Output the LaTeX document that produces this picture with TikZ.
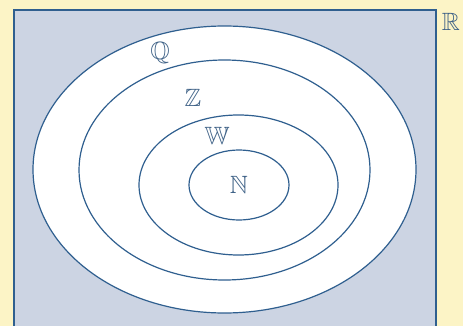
\documentclass[tikz,border=0pt]{standalone}
\usepackage{amssymb}
\definecolor{bgyellow}{HTML}{FCF4C6}
\definecolor{boxblue}{HTML}{CCD4E3}
\definecolor{edgeblue}{HTML}{2F5F8F}
\definecolor{labelblue}{HTML}{3F6287}
\begin{document}
\begin{tikzpicture}[x=1pt,y=-1pt,
  setring/.style={draw=edgeblue,line width=1.2pt,fill=white},
  setlabel/.style={text=labelblue,font=\fontsize{25}{25}\selectfont,inner sep=0pt}]
\useasboundingbox (0,0) rectangle (463,326);
\fill[bgyellow] (0,0) rectangle (463,326);
\draw[draw=edgeblue,line width=1.2pt,fill=boxblue] (14,10) rectangle (436,340);
\draw[setring] (224.5,169.5) ellipse [x radius=191.5,y radius=143.5];
\draw[setring] (224.5,170) ellipse [x radius=145.5,y radius=110];
\draw[setring] (238.5,185) ellipse [x radius=99.5,y radius=70];
\draw[setring] (239,185) ellipse [x radius=50,y radius=35];
\node[setlabel] (q) at (160,53) {$\mathbb{Q}$};
\node[setlabel] (z) at (193,98) {$\mathbb{Z}$};
\node[setlabel] (w) at (217,136) {$\mathbb{W}$};
\node[setlabel] (n) at (239,185) {$\mathbb{N}$};
\node[setlabel] (r) at (451,22) {$\mathbb{R}$};
\end{tikzpicture}
\end{document}
